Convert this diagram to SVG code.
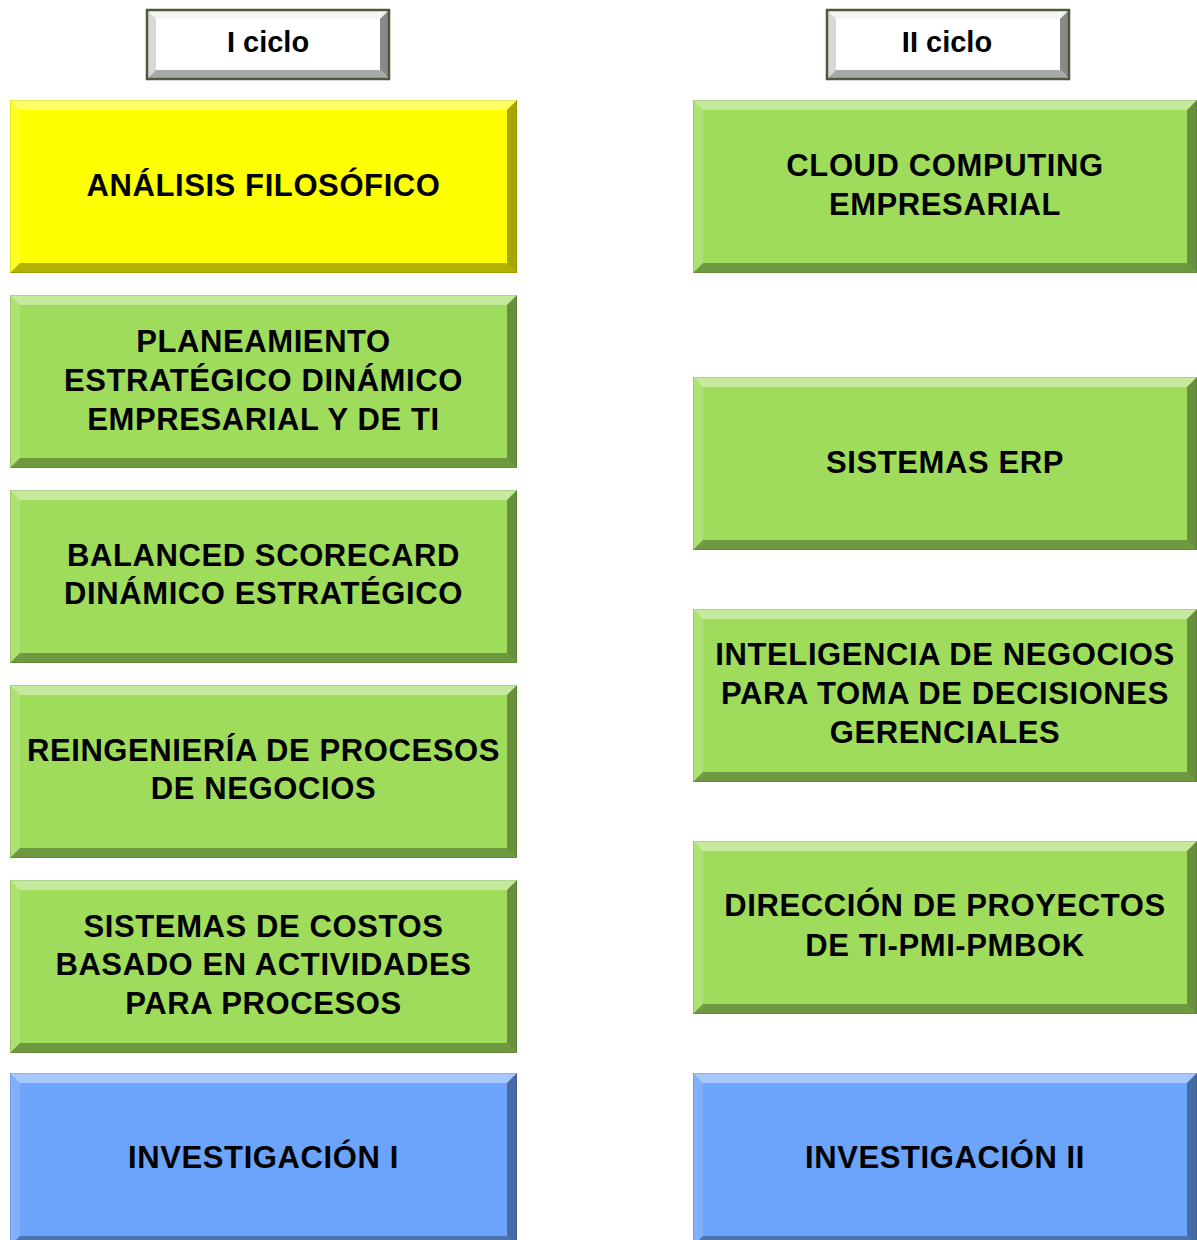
<svg xmlns="http://www.w3.org/2000/svg" xmlns:xlink="http://www.w3.org/1999/xlink" width="1197" height="1240" viewBox="0 0 1197 1240">
<style>
.t{font-family:"Liberation Sans",Arial,sans-serif;font-weight:bold;font-size:31px;letter-spacing:0.6px;text-anchor:middle;fill:#000}
.h{font-family:"Liberation Sans",Arial,sans-serif;font-weight:bold;font-size:29px;text-anchor:middle;fill:#000}
.yel{fill:#FFFF00}
.grn{fill:#A0DC5C}
.blu{fill:#6CA3FB}
.bt{fill:#fff;fill-opacity:0.4}
.bl{fill:#fff;fill-opacity:0.15}
.br{fill:#000;fill-opacity:0.35}
.bb{fill:#000;fill-opacity:0.3}
.edge{fill:none;stroke:#000;stroke-opacity:0.1;stroke-width:1}
</style>
<defs>
<symbol id="bevL" overflow="visible">
<polygon class="bt" points="0,0 507,0 497,10 10,10"/>
<polygon class="bl" points="0,0 10,10 10,163 0,173"/>
<polygon class="br" points="507,0 507,173 497,163 497,10"/>
<polygon class="bb" points="0,173 10,163 497,163 507,173"/>
<rect class="edge" x="0.5" y="0.5" width="506" height="172"/>
</symbol>
<symbol id="bevR" overflow="visible">
<polygon class="bt" points="0,0 504,0 494,10 10,10"/>
<polygon class="bl" points="0,0 10,10 10,163 0,173"/>
<polygon class="br" points="504,0 504,173 494,163 494,10"/>
<polygon class="bb" points="0,173 10,163 494,163 504,173"/>
<rect class="edge" x="0.5" y="0.5" width="503" height="172"/>
</symbol>
<symbol id="bevH" overflow="visible">
<rect x="0" y="0" width="244" height="71" fill="#FFFFFF"/>
<polygon points="2,2 242,2 234,10 10,10" fill="#F4F4F4"/>
<polygon points="2,2 10,10 10,61 2,69" fill="#D8D8D8"/>
<polygon points="242,2 242,69 234,61 234,10" fill="#8A8A8A"/>
<polygon points="2,69 10,61 234,61 242,69" fill="#A8A8A8"/>
<rect x="1" y="1" width="242" height="69" fill="none" stroke="#4E5A3C" stroke-width="2.5"/>
</symbol>
</defs>
<rect width="1197" height="1240" fill="#FFFFFF"/>
<g id="connectors"></g>

<g id="hdr1">
<use xlink:href="#bevH" x="146" y="9"/>
<text class="h" x="268" y="52">I ciclo</text>
</g>
<g id="hdr2">
<use xlink:href="#bevH" x="826" y="9"/>
<text class="h" x="947" y="52">II ciclo</text>
</g>

<g id="n1">
<rect class="yel" x="10" y="100" width="507" height="173"/>
<use xlink:href="#bevL" x="10" y="100"/>
<text class="t" x="263.5" y="196">ANÁLISIS FILOSÓFICO</text>
</g>
<g id="n2">
<rect class="grn" x="10" y="295" width="507" height="173"/>
<use xlink:href="#bevL" x="10" y="295"/>
<text class="t" x="263.5" y="352">PLANEAMIENTO</text>
<text class="t" x="263.5" y="391">ESTRATÉGICO DINÁMICO</text>
<text class="t" x="263.5" y="430">EMPRESARIAL Y DE TI</text>
</g>
<g id="n3">
<rect class="grn" x="10" y="490" width="507" height="173"/>
<use xlink:href="#bevL" x="10" y="490"/>
<text class="t" x="263.5" y="566">BALANCED SCORECARD</text>
<text class="t" x="263.5" y="604">DINÁMICO ESTRATÉGICO</text>
</g>
<g id="n4">
<rect class="grn" x="10" y="685" width="507" height="173"/>
<use xlink:href="#bevL" x="10" y="685"/>
<text class="t" x="263.5" y="761">REINGENIERÍA DE PROCESOS</text>
<text class="t" x="263.5" y="799">DE NEGOCIOS</text>
</g>
<g id="n5">
<rect class="grn" x="10" y="880" width="507" height="173"/>
<use xlink:href="#bevL" x="10" y="880"/>
<text class="t" x="263.5" y="937">SISTEMAS DE COSTOS</text>
<text class="t" x="263.5" y="975">BASADO EN ACTIVIDADES</text>
<text class="t" x="263.5" y="1014">PARA PROCESOS</text>
</g>
<g id="n6">
<rect class="blu" x="10" y="1073" width="507" height="173"/>
<use xlink:href="#bevL" x="10" y="1073"/>
<text class="t" x="263.5" y="1168">INVESTIGACIÓN I</text>
</g>

<g id="m1">
<rect class="grn" x="693" y="100" width="504" height="173"/>
<use xlink:href="#bevR" x="693" y="100"/>
<text class="t" x="945" y="176">CLOUD COMPUTING</text>
<text class="t" x="945" y="215">EMPRESARIAL</text>
</g>
<g id="m2">
<rect class="grn" x="693" y="377" width="504" height="173"/>
<use xlink:href="#bevR" x="693" y="377"/>
<text class="t" x="945" y="473">SISTEMAS ERP</text>
</g>
<g id="m3">
<rect class="grn" x="693" y="609" width="504" height="173"/>
<use xlink:href="#bevR" x="693" y="609"/>
<text class="t" x="945" y="665">INTELIGENCIA DE NEGOCIOS</text>
<text class="t" x="945" y="704">PARA TOMA DE DECISIONES</text>
<text class="t" x="945" y="743">GERENCIALES</text>
</g>
<g id="m4">
<rect class="grn" x="693" y="841" width="504" height="173"/>
<use xlink:href="#bevR" x="693" y="841"/>
<text class="t" x="945" y="916">DIRECCIÓN DE PROYECTOS</text>
<text class="t" x="945" y="956">DE TI-PMI-PMBOK</text>
</g>
<g id="m5">
<rect class="blu" x="693" y="1073" width="504" height="173"/>
<use xlink:href="#bevR" x="693" y="1073"/>
<text class="t" x="945" y="1168">INVESTIGACIÓN II</text>
</g>
</svg>
